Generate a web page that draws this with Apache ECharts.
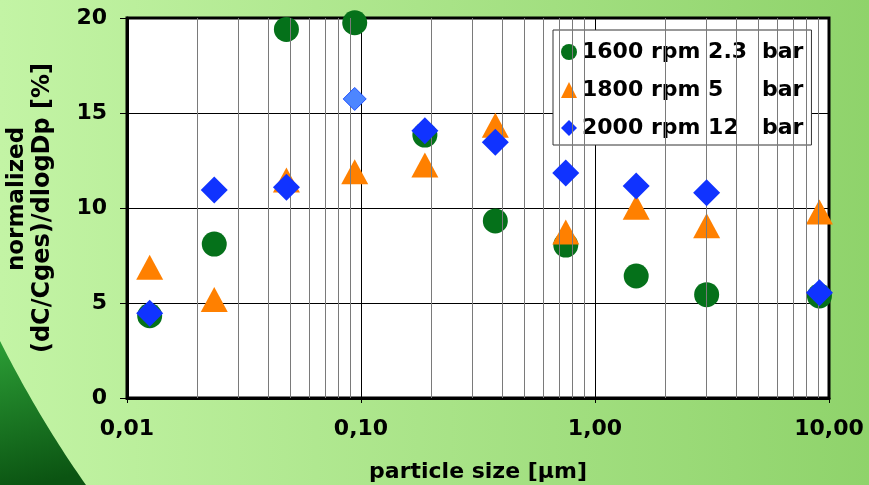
<!DOCTYPE html>
<html>
<head>
<meta charset="utf-8">
<script src="https://cdn.jsdelivr.net/npm/echarts@6/dist/echarts.min.js"></script>
<style>
html,body{margin:0;padding:0;}
#c{width:869px;height:485px;}
</style>
</head>
<body>
<div id="c"></div>
<script>
// ---- data ----
var particleSize = [0.0125, 0.0236, 0.048, 0.094, 0.1875, 0.375, 0.75, 1.5, 3.0, 9.1];
var series1600 = [4.33, 8.1, 19.4, 19.75, 13.84, 9.32, 8.05, 6.42, 5.44, 5.37];
var series1800 = [6.88, 5.18, 11.47, 11.91, 12.26, 14.35, 8.74, 10.04, 9.07, 9.79];
var series2000 = [4.46, 10.95, 11.09, 15.74, 14.07, 13.46, 11.84, 11.16, 10.8, 5.54];
var seriesNames = ['1600 rpm 2.3 bar', '1800 rpm 5 bar', '2000 rpm 12 bar'];
var xTickLabels = ['0,01', '0,10', '1,00', '10,00'];
var yTicks = [0, 5, 10, 15, 20];
var minorGridX = [0.02,0.03,0.04,0.05,0.06,0.07,0.08,0.09,
                  0.2,0.3,0.4,0.5,0.6,0.7,0.8,0.9,
                  2,3,4,5,6,7,8,9];
var highlightIndex = 3; // lighter diamond in 2000 rpm series

function pairs(xs, ys){ return xs.map(function(x,i){ return [x, ys[i]]; }); }

// decorative corner swoosh (quadratic curve outline)
function swooshPoints(){
  var pts = [];
  var p0 = [0, 341], c = [40, 420], p1 = [86, 485];
  for (var k = 0; k <= 30; k++) {
    var t = k / 30, u = 1 - t;
    pts.push([u*u*p0[0] + 2*u*t*c[0] + t*t*p1[0], u*u*p0[1] + 2*u*t*c[1] + t*t*p1[1]]);
  }
  pts.push([0, 485]);
  return pts;
}

var FONT = 'DejaVu Sans';
var chart = echarts.init(document.getElementById('c'));

var d2000 = pairs(particleSize, series2000).map(function(p, i){
  if (i === highlightIndex) {
    return {value: p, symbolSize: 23, itemStyle: {color: '#4d86ff', borderColor: '#1f52ff', borderWidth: 1}};
  }
  return p;
});

var option = {
  animation: false,
  backgroundColor: {
    type: 'linear', x: 0, y: 0, x2: 1, y2: 0,
    colorStops: [{offset: 0, color: '#c3f4a5'}, {offset: 1, color: '#8fd36b'}]
  },
  graphic: [{
    type: 'polygon',
    z: -1,
    silent: true,
    shape: {points: swooshPoints()},
    style: {
      fill: {type: 'linear', x: 0, y: 0, x2: 0.4, y2: 1,
        colorStops: [{offset: 0, color: '#2c9e36'}, {offset: 1, color: '#0b5412'}]}
    }
  }],
  grid: {
    left: 127, right: 40, top: 18, bottom: 87,
    containLabel: false,
    outerBoundsMode: 'none',
    show: true, backgroundColor: '#ffffff', borderColor: '#000', borderWidth: 3
  },
  legend: {
    orient: 'vertical',
    left: 553, top: 30,
    padding: [11, 8, 6, 8],
    backgroundColor: '#ffffff',
    borderColor: '#333',
    borderWidth: 1,
    itemWidth: 16, itemHeight: 16, itemGap: 16,
    data: seriesNames,
    formatter: function(name){
      var i = name.lastIndexOf('bar');
      return '{a|' + name.slice(0, i).trim() + '}{b|bar}';
    },
    textStyle: {
      lineHeight: 22,
      rich: {
        a: {fontFamily: FONT, fontWeight: 'bold', fontSize: 22, color: '#000', width: 180, lineHeight: 22},
        b: {fontFamily: FONT, fontWeight: 'bold', fontSize: 22, color: '#000', lineHeight: 22}
      }
    }
  },
  xAxis: {
    type: 'log', logBase: 10, min: 0.01, max: 10,
    name: 'particle size [µm]',
    nameLocation: 'middle', nameGap: 63,
    nameTextStyle: {fontFamily: FONT, fontWeight: 'bold', fontSize: 22, color: '#000'},
    axisLine: {show: true, lineStyle: {color: '#000', width: 3}},
    axisTick: {show: true, length: 5, lineStyle: {color: '#000', width: 1}},
    axisLabel: {
      margin: 20, fontFamily: FONT, fontWeight: 'bold', fontSize: 22, color: '#000',
      formatter: function(v, idx){ return xTickLabels[idx] !== undefined ? xTickLabels[idx] : ''; }
    },
    splitLine: {show: true, lineStyle: {color: '#000', width: 1}}
  },
  yAxis: {
    type: 'value', min: yTicks[0], max: yTicks[yTicks.length - 1], interval: 5,
    name: '{a|normalized}\n{b|(dC/Cges)/dlogDp [%]}',
    nameLocation: 'middle', nameGap: 72, nameRotate: 90,
    nameTextStyle: {
      fontFamily: FONT, fontWeight: 'bold', fontSize: 22, color: '#000', align: 'center',
      rich: {
        a: {fontFamily: FONT, fontWeight: 'bold', fontSize: 23, color: '#000', lineHeight: 25, padding: [0, 0, 0, 18]},
        b: {fontFamily: FONT, fontWeight: 'bold', fontSize: 24, color: '#000', lineHeight: 25}
      }
    },
    axisLine: {show: true, lineStyle: {color: '#000', width: 3}},
    axisTick: {show: true, length: 7, lineStyle: {color: '#000', width: 1}},
    axisLabel: {margin: 20, fontFamily: FONT, fontWeight: 'bold', fontSize: 22, color: '#000'},
    splitLine: {show: true, lineStyle: {color: '#000', width: 1}}
  },
  series: [
    {
      name: '__grid', type: 'scatter', data: [], silent: true, z: 1,
      markLine: {
        silent: true, symbol: ['none', 'none'], animation: false,
        label: {show: false},
        lineStyle: {color: '#7a7a7a', width: 1, type: 'solid'},
        data: minorGridX.map(function(v){ return {xAxis: v}; })
      }
    },
    {
      name: seriesNames[0], type: 'scatter', symbol: 'circle', symbolSize: 25, z: 3,
      itemStyle: {color: '#05711a', opacity: 1},
      data: pairs(particleSize, series1600)
    },
    {
      name: seriesNames[1], type: 'scatter', symbol: 'triangle', symbolSize: [27, 25], z: 4,
      itemStyle: {color: '#ff8000', opacity: 1},
      data: pairs(particleSize, series1800)
    },
    {
      name: seriesNames[2], type: 'scatter', symbol: 'diamond', symbolSize: 27, z: 5,
      itemStyle: {color: '#1033ff', opacity: 1},
      data: d2000
    }
  ]
};
chart.setOption(option);
</script>
</body>
</html>
